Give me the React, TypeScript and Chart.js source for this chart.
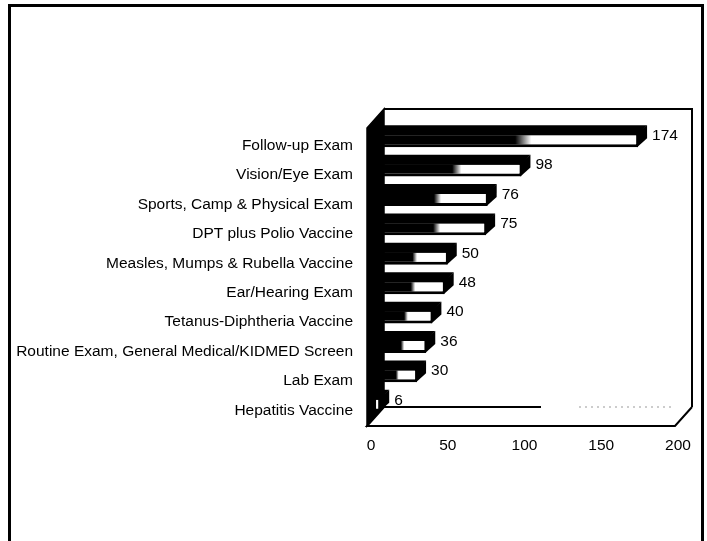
import React, { useEffect, useRef } from 'react';
import { Chart, registerables } from 'chart.js';

Chart.register(...registerables);

const categories = [
  'Follow-up Exam',
  'Vision/Eye Exam',
  'Sports, Camp & Physical Exam',
  'DPT plus Polio Vaccine',
  'Measles, Mumps & Rubella Vaccine',
  'Ear/Hearing Exam',
  'Tetanus-Diphtheria Vaccine',
  'Routine Exam, General Medical/KIDMED Screen',
  'Lab Exam',
  'Hepatitis Vaccine',
];
const counts = [174, 98, 76, 75, 50, 48, 40, 36, 30, 6];
const xTicks = [0, 50, 100, 150, 200];

const FONT_FAMILY = '"Liberation Sans", Arial, Helvetica, sans-serif';
const FONT_SIZE = 15.5;
const BAR_DEPTH = 9;
const BOX_DX = 17;
const BOX_DY = -19;

const threeD = {
  id: 'threeD',
  beforeDraw(chart: any) {
    const c = chart.ctx;
    c.save();
    c.fillStyle = '#fff';
    c.fillRect(0, 0, chart.width, chart.height);
    c.strokeStyle = '#000';
    c.lineWidth = 3;
    c.strokeRect(9.5, 5.5, 693, 620);
    c.restore();
  },
  beforeDatasetsDraw(chart: any) {
    const { left, right, top, bottom } = chart.chartArea;
    const fl = left - 4, fr = right - 3, ft = top + 2, fb = bottom + 6;
    const dx = BOX_DX, dy = BOX_DY;
    const c = chart.ctx;
    c.save();
    // back wall
    c.fillStyle = '#fff';
    c.fillRect(fl + dx, ft + dy, fr - fl, fb - ft);
    c.strokeStyle = '#000';
    c.lineWidth = 2;
    c.beginPath();
    c.moveTo(fl + dx, ft + dy);
    c.lineTo(fr + dx, ft + dy);
    c.lineTo(fr + dx, fb + dy);
    c.stroke();
    // left wall
    c.beginPath();
    c.moveTo(fl, ft);
    c.lineTo(fl + dx, ft + dy);
    c.lineTo(fl + dx, fb + dy);
    c.lineTo(fl, fb);
    c.closePath();
    c.fillStyle = '#000';
    c.fill();
    c.lineWidth = 1.5;
    c.stroke();
    // floor
    c.beginPath();
    c.moveTo(fl, fb);
    c.lineTo(fl + dx, fb + dy);
    c.lineTo(fr + dx, fb + dy);
    c.lineTo(fr, fb);
    c.closePath();
    c.fillStyle = '#fff';
    c.fill();
    c.lineWidth = 2;
    c.beginPath();
    c.moveTo(fl + dx, fb + dy);
    c.lineTo(fl, fb);
    c.lineTo(fr, fb);
    c.lineTo(fr + dx, fb + dy);
    c.stroke();
    // back edge of floor (solid part, then faint dotted part)
    c.beginPath();
    c.moveTo(fl + dx, fb + dy);
    c.lineTo(fl + dx + 157, fb + dy);
    c.stroke();
    c.setLineDash([2, 4]);
    c.strokeStyle = '#999';
    c.lineWidth = 1;
    c.beginPath();
    c.moveTo(fl + dx + 195, fb + dy);
    c.lineTo(fr + dx - 18, fb + dy);
    c.stroke();
    c.restore();
  },
  afterDatasetsDraw(chart: any) {
    const c = chart.ctx;
    const meta = chart.getDatasetMeta(0);
    c.save();
    meta.data.forEach((el: any, i: number) => {
      const { x, y, base, height } = el.getProps(['x', 'y', 'base', 'height'], true);
      const t = y - height / 2;
      const b = y + height / 2;
      const d = BAR_DEPTH;
      c.fillStyle = '#000';
      c.beginPath();
      c.moveTo(base, t + 1);
      c.lineTo(x, t + 1);
      c.lineTo(x + d, t - d);
      c.lineTo(base + d, t - d);
      c.closePath();
      c.fill();
      c.beginPath();
      c.moveTo(x - 1, t);
      c.lineTo(x + d, t - d);
      c.lineTo(x + d, b - d);
      c.lineTo(x - 1, b);
      c.closePath();
      c.fill();
      c.font = `${FONT_SIZE}px ${FONT_FAMILY}`;
      c.textAlign = 'left';
      c.textBaseline = 'middle';
      c.fillText(String(counts[i]), x + d + 5, y - 5);
    });
    c.restore();
  },
};

export default function App() {
  const ref = useRef<HTMLCanvasElement | null>(null);

  useEffect(() => {
    if (!ref.current) return;
    const font = { family: FONT_FAMILY, size: FONT_SIZE };
    const chart = new Chart(ref.current, {
      type: 'bar',
      data: {
        labels: categories,
        datasets: [
          {
            data: counts,
            backgroundColor: (ctx: any) => {
              const ch = ctx.chart;
              if (!ch.chartArea || ctx.type !== 'data' || !ch.scales.x) return '#000';
              const xs = ch.scales.x;
              const x0 = xs.getPixelForValue(0);
              const x1 = xs.getPixelForValue(ctx.parsed.x);
              if (!isFinite(x0) || !isFinite(x1) || x1 - x0 < 1) return '#000';
              const g = ch.ctx.createLinearGradient(x0, 0, x1, 0);
              g.addColorStop(0, '#000');
              g.addColorStop(0.54, '#000');
              g.addColorStop(0.6, '#fff');
              g.addColorStop(1, '#fff');
              return g;
            },
            borderColor: '#000',
            borderWidth: { top: 1, right: 2, bottom: 3, left: 0 },
            borderSkipped: false,
            barPercentage: 0.44,
            categoryPercentage: 1,
          },
        ],
      },
      options: {
        indexAxis: 'y',
        responsive: false,
        devicePixelRatio: 1,
        animation: false,
        events: [],
        layout: { padding: { top: 126, right: 29, bottom: 0, left: 0 } },
        plugins: {
          legend: { display: false },
          tooltip: { enabled: false },
          title: { display: false },
        },
        scales: {
          x: {
            type: 'linear',
            position: 'bottom',
            min: 0,
            max: 200,
            grid: { display: false, drawTicks: false },
            border: { display: false },
            ticks: { padding: 16, color: '#000', font, maxRotation: 0 },
            afterBuildTicks: (s: any) => {
              s.ticks = xTicks.map((v) => ({ value: v }));
            },
            afterFit: (s: any) => {
              s.height = 121;
            },
          },
          y: {
            type: 'category',
            grid: { display: false, drawTicks: false },
            border: { display: false },
            ticks: { padding: 18, color: '#000', font, labelOffset: 5, autoSkip: false },
            afterFit: (s: any) => {
              s.width = 371;
            },
          },
        },
      },
      plugins: [threeD],
    } as any);
    return () => chart.destroy();
  }, []);

  return (
    <div style={{ position: 'fixed', left: 0, top: 0, width: 707, height: 541, background: '#fff' }}>
      <canvas ref={ref} width={707} height={541} style={{ display: 'block', width: 707, height: 541 }} />
    </div>
  );
}
